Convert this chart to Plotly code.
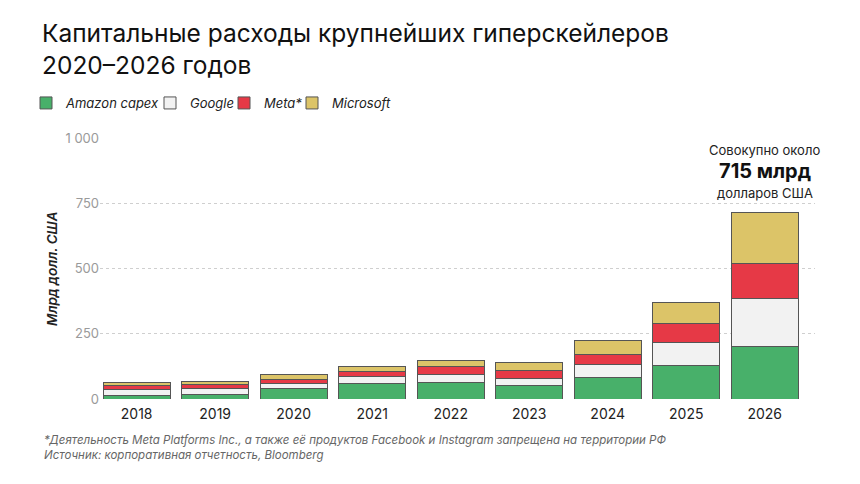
import plotly.graph_objects as go

years = ["2018", "2019", "2020", "2021", "2022", "2023", "2024", "2025", "2026"]
amazon = [14, 17, 40, 61, 62, 50, 81, 130, 200]
google = [24, 23, 21, 24, 31, 30, 52, 88, 185]
meta = [14, 15, 15, 19, 32, 28, 37, 70, 135]
microsoft = [13, 14, 17, 21, 24, 33, 56, 84, 195]

series_names = ["Amazon capex", "Google", "Meta*", "Microsoft"]
series_colors = ["#48B06A", "#F2F2F2", "#E63946", "#DCC468"]
ytick_vals = [0, 250, 500, 750, 1000]
ytick_text = ["0", "250", "500", "750", "1 000"]

title_text = "Капитальные расходы крупнейших гиперскейлеров<br>2020–2026 годов"
footnote = ("*Деятельность Meta Platforms Inc., а также её продуктов Facebook и Instagram запрещена на территории РФ"
            "<br>Источник: корпоративная отчетность, Bloomberg")

FONT = "Inter"
W, H = 860, 484
L, R, T, B = 100, 45, 134, 85
PW, PH = W - L - R, H - T - B

legend_ids = ["legend", "legend2", "legend3", "legend4"]
legend_x_px = [26, 150, 224, 292]

fig = go.Figure()
for name, vals, col, lid in zip(series_names, [amazon, google, meta, microsoft], series_colors, legend_ids):
    fig.add_trace(go.Bar(
        x=list(range(len(years))), y=vals, name=name,
        marker=dict(color=col, line=dict(color="#555555", width=1)),
        width=0.855, legend=lid,
    ))

total_last = amazon[-1] + google[-1] + meta[-1] + microsoft[-1]

legend_common = dict(orientation="h", xref="container", xanchor="left",
                     y=1 - 88/H, yref="container", yanchor="top",
                     font=dict(family=FONT, size=13, style="italic", color="#222222"),
                     itemwidth=30, bgcolor="rgba(0,0,0,0)")

layout_legends = {lid: dict(legend_common, x=px / W) for lid, px in zip(legend_ids, legend_x_px)}

fig.update_layout(
    width=W, height=H,
    barmode="stack",
    plot_bgcolor="white", paper_bgcolor="white",
    margin=dict(l=L, r=R, t=T, b=B),
    font=dict(family=FONT, color="#222222"),
    title=dict(text=title_text, x=42/W, xref="container", xanchor="left",
               y=1 - 42/H, yref="container", yanchor="top",
               font=dict(family=FONT, size=24.5, color="#111111")),
    xaxis=dict(tickmode="array", tickvals=list(range(len(years))), ticktext=years,
               range=[-0.467, 8.64], showgrid=False, zeroline=False, showline=False,
               tickfont=dict(size=14, color="#222222"), ticks="", ticklabelstandoff=5),
    yaxis=dict(range=[0, 1000], tickvals=ytick_vals, ticktext=ytick_text,
               showgrid=True, gridcolor="#CFCFCF", griddash="3px,3px", gridwidth=1,
               zeroline=False, showline=False, ticks="",
               tickfont=dict(size=13, color="#9A9A9A"),
               title=dict(text="Млрд долл. США", standoff=4,
                          font=dict(size=13.5, style="italic", weight=600, color="#222222"))),
    showlegend=True,
    **layout_legends,
)

fig.add_annotation(x=len(years) - 1, y=954, xref="x", yref="y", text="Совокупно около",
                   showarrow=False, font=dict(size=13, color="#222222"), borderpad=0)
fig.add_annotation(x=len(years) - 1, y=874, xref="x", yref="y", text=f"<b>{total_last} млрд</b>",
                   showarrow=False, font=dict(size=20, color="#111111"), borderpad=0)
fig.add_annotation(x=len(years) - 1, y=790, xref="x", yref="y", text="долларов США",
                   showarrow=False, font=dict(size=13, color="#222222"), borderpad=0)
fig.add_annotation(x=(42 - L) / PW, y=(H - B - 432) / PH, xref="paper", yref="paper", text=footnote,
                   xanchor="left", yanchor="top", align="left", showarrow=False,
                   font=dict(size=11.5, style="italic", color="#666666"))

fig.write_html("out.html")
